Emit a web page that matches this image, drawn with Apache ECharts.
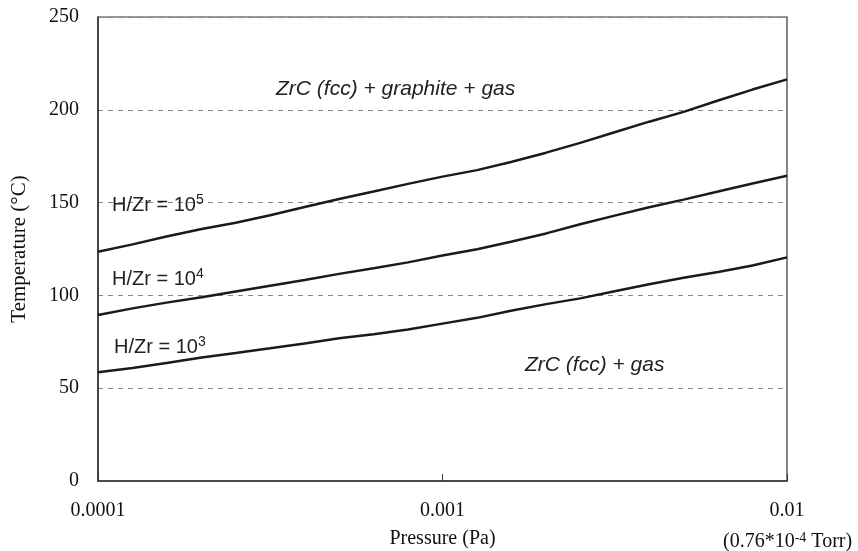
<!DOCTYPE html>
<html>
<head>
<meta charset="utf-8">
<script src="https://cdn.jsdelivr.net/npm/echarts@6/dist/echarts.min.js"></script>
<style>html,body{margin:0;padding:0;background:#fff}#c{width:858px;height:551px}</style>
</head>
<body>
<div id="c"></div>
<script>
const pressures = [0.0001, 0.000126, 0.000158, 0.0002, 0.000251, 0.000316, 0.000398, 0.000501, 0.000631, 0.000794,
  0.001, 0.00126, 0.00158, 0.002, 0.00251, 0.00316, 0.00398, 0.00501, 0.00631, 0.00794, 0.01];
const hzr1e5 = [123.5, 127.5, 131.7, 135.8, 139.1, 143.2, 147.6, 151.9, 156.0, 160.1,
  164.0, 167.5, 171.9, 176.9, 182.2, 187.9, 193.6, 198.9, 205.0, 210.9, 216.4];
const hzr1e4 = [89.4, 93.0, 96.1, 99.0, 102.1, 105.2, 108.3, 111.6, 114.6, 117.8,
  121.5, 124.9, 128.9, 133.4, 138.3, 143.0, 147.5, 151.6, 156.0, 160.3, 164.5];
const hzr1e3 = [58.6, 60.9, 63.6, 66.6, 69.0, 71.5, 74.1, 76.9, 79.1, 81.6,
  84.8, 87.9, 91.7, 95.3, 98.4, 102.2, 106.0, 109.5, 112.6, 116.1, 120.5];
const xTickLabels = ['0.0001', '0.001', '0.01'];
const yTicks = [0, 50, 100, 150, 200, 250];

const serif = '"Liberation Serif", "Times New Roman", serif';
const sans = '"Liberation Sans", Arial, sans-serif';

function pairs(ys) { return pressures.map((p, i) => [p, ys[i]]); }
function supLabel(base, sup) {
  return {
    text: '{a|' + base + '}{s|' + sup + '}',
    rich: {
      a: { font: '20px ' + sans, fill: '#222' },
      s: { font: '14px ' + sans, fill: '#222', verticalAlign: 'top', padding: [0, 0, 10, 0] }
    }
  };
}

const lineStyle = { color: '#1a1a1a', width: 2.5 };
const chart = echarts.init(document.getElementById('c'), null, { renderer: 'canvas' });
chart.setOption({
  animation: false,
  backgroundColor: '#fff',
  grid: { left: 98, right: 71, top: 17, bottom: 70, show: true, borderColor: '#333', borderWidth: 1.2,
    containLabel: false, outerBoundsMode: 'none' },
  xAxis: {
    type: 'log', logBase: 10, min: 0.0001, max: 0.01,
    axisLine: { show: true, lineStyle: { color: '#333', width: 1.5 } },
    axisTick: { show: true, inside: true, length: 7, lineStyle: { color: '#333', width: 1 } },
    minorTick: { show: false },
    splitLine: { show: false },
    axisLabel: {
      margin: 20, color: '#111', fontFamily: serif, fontSize: 20,
      formatter: (v, i) => xTickLabels[i] !== undefined ? xTickLabels[i] : ''
    },
    name: 'Pressure (Pa)', nameLocation: 'middle', nameGap: 48,
    nameTextStyle: { color: '#111', fontFamily: serif, fontSize: 20 }
  },
  yAxis: {
    type: 'value', min: yTicks[0], max: yTicks[yTicks.length - 1], interval: 50,
    axisLine: { show: true, lineStyle: { color: '#333', width: 1.5 } },
    axisTick: { show: false },
    splitLine: { show: true, lineStyle: { color: '#888', type: [5, 5], width: 1 } },
    axisLabel: { margin: 19, color: '#111', fontFamily: serif, fontSize: 20, padding: [9, 0, 0, 0] },
    name: 'Temperature (°C)', nameLocation: 'middle', nameGap: 68, nameRotate: 90,
    nameTextStyle: { color: '#111', fontFamily: serif, fontSize: 21 }
  },
  series: [
    { type: 'line', data: pairs(hzr1e5), showSymbol: false, lineStyle: lineStyle, z: 5 },
    { type: 'line', data: pairs(hzr1e4), showSymbol: false, lineStyle: lineStyle, z: 5 },
    { type: 'line', data: pairs(hzr1e3), showSymbol: false, lineStyle: lineStyle, z: 5 }
  ],
  graphic: [
    { type: 'text', left: 276, top: 79, z: 10, style: { text: 'ZrC (fcc) + graphite + gas', font: 'italic 21px ' + sans, fill: '#222' } },
    { type: 'text', left: 525, top: 355, z: 10, style: { text: 'ZrC (fcc) + gas', font: 'italic 21px ' + sans, fill: '#222' } },
    { type: 'text', left: 112, top: 193, z: 10, style: supLabel('H/Zr = 10', '5') },
    { type: 'text', left: 112, top: 267, z: 10, style: supLabel('H/Zr = 10', '4') },
    { type: 'text', left: 114, top: 335, z: 10, style: supLabel('H/Zr = 10', '3') },
    { type: 'text', left: 723, top: 531, z: 10, style: {
        text: '{a|(0.76*10}{s|-4}{a| Torr)}', rich: { a: { font: '20px ' + serif, fill: '#111' }, s: { font: '14px ' + serif, fill: '#111', verticalAlign: 'top', padding: [0, 0, 8, 0] } } } }
  ]
});
</script>
</body>
</html>
